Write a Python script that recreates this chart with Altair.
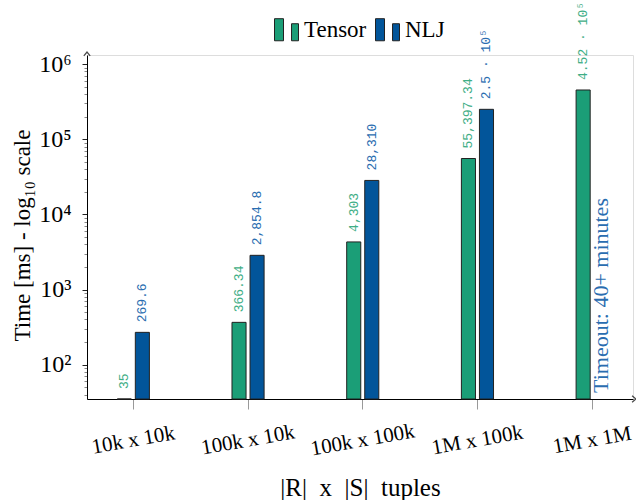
import altair as alt
import pandas as pd

# ---- data ----
categories = ["10k x 10k", "100k x 10k", "100k x 100k", "1M x 100k", "1M x 1M"]
series_names = ["Tensor", "NLJ"]
tensor_ms = [35, 366.34, 4303, 55397.34, 452000]
nlj_ms = [269.6, 2854.8, 28310, 250000, None]
tensor_labels = ["35", "366.34", "4,303", "55,397.34", "4.52 · 10⁵"]
nlj_labels = ["269.6", "2,854.8", "28,310", "2.5 · 10⁵", None]
timeout_category = "1M x 1M"
timeout_text = "Timeout: 40+ minutes"
y_min, y_max = 35, 1.32e6
y_major = [1e2, 1e3, 1e4, 1e5, 1e6]
y_minor = [m * 10 ** e for e in range(1, 6) for m in range(2, 10) if m * 10 ** e >= y_min]

rows = []
for c, v, l in zip(categories, tensor_ms, tensor_labels):
    rows.append({"cat": c, "series": "Tensor", "value": v, "label": l})
for c, v, l in zip(categories, nlj_ms, nlj_labels):
    if v is not None:
        rows.append({"cat": c, "series": "NLJ", "value": v, "label": l})
df = pd.DataFrame(rows)
df_timeout = pd.DataFrame([{"cat": timeout_category, "series": "NLJ", "value": y_min, "label": timeout_text}])

# ---- styles ----
W, H = 546, 344
GREEN, BLUE = "#1b9e77", "#02559a"
GREEN_LBL, BLUE_LBL = "#3fae86", "#2a6db0"
SERIF = "Liberation Serif"
MONO = "Liberation Mono"

x_scale = alt.Scale(domain=categories, paddingInner=0.72, paddingOuter=0.24, align=0.55)
xo_scale = alt.Scale(domain=series_names, paddingInner=0.22, paddingOuter=0)
y_scale = alt.Scale(type="log", domain=[y_min, y_max], nice=False)

major_test = "indexof([100,1000,10000,100000,1000000], datum.value) >= 0"

x_enc = alt.X(
    "cat:N", scale=x_scale, sort=categories,
    axis=alt.Axis(
        title="|R|\u2002x\u2002|S|\u2002tuples", titleFont=SERIF, titleFontSize=25,
        titleFontWeight="normal", titleColor="black", titleX=W / 2, titleY=88,
        titleBaseline="middle", titleAlign="center",
        labelFont=SERIF, labelFontSize=21, labelColor="black", labelAngle=350,
        labelAlign="center", labelBaseline="middle", labelPadding=31,
        labelOverlap=False, labelLimit=300,
        tickSize=10, tickColor="#999999", tickWidth=1,
        domainColor="black", domainWidth=1, grid=False,
    ),
)
xo_enc = alt.XOffset("series:N", scale=xo_scale)
y_enc = alt.Y(
    "value:Q", scale=y_scale,
    axis=alt.Axis(
        title="Time [ms] - log₁₀ scale", titleFont=SERIF, titleFontSize=23,
        titleFontWeight="normal", titleColor="black", titleX=-65, titleY=180,
        titleAngle=270, titleAlign="center", titleBaseline="middle",
        values=sorted(y_major + y_minor),
        labelExpr="indexof([100,1000,10000,100000,1000000], datum.value) >= 0 ? '10' + ['⁰','¹','²','³','⁴','⁵','⁶'][round(log(datum.value)/LN10)] : ''",
        labelFont=SERIF, labelFontSize=24, labelColor="black", labelPadding=11,
        labelOverlap=False,
        tickSize={"condition": {"test": major_test, "value": 5}, "value": 3},
        tickColor={"condition": {"test": major_test, "value": "#222222"}, "value": "#888888"},
        tickWidth=1,
        domainColor="black", domainWidth=1, grid=False,
    ),
)

legend_path = "M-1,-0.92 L-0.25,-0.92 L-0.25,0.92 L-1,0.92 Z M0.42,-0.5 L1,-0.5 L1,0.92 L0.42,0.92 Z"

bars = alt.Chart(df).mark_bar(stroke="#222222", strokeWidth=1).encode(
    x=x_enc, xOffset=xo_enc, y=y_enc, y2=alt.datum(y_min),
    fill=alt.Fill(
        "series:N", scale=alt.Scale(domain=series_names, range=[GREEN, BLUE]),
        legend=alt.Legend(
            title=None, orient="none", direction="horizontal", legendX=187, legendY=-38,
            symbolType=legend_path, symbolSize=576, symbolStrokeColor="#222222",
            symbolStrokeWidth=1, labelFont=SERIF, labelFontSize=23, labelColor="black",
            labelOffset=5, columnPadding=6, padding=0,
        ),
    ),
)

labels = alt.Chart(df).mark_text(
    angle=270, align="left", baseline="middle", dx=10, font=MONO, fontSize=13
).encode(
    x=alt.X("cat:N", scale=x_scale, sort=categories),
    xOffset=xo_enc,
    y=alt.Y("value:Q", scale=y_scale),
    text="label:N",
    color=alt.condition("datum.series == 'Tensor'", alt.value(GREEN_LBL), alt.value(BLUE_LBL)),
)

timeout = alt.Chart(df_timeout).mark_text(
    angle=270, align="left", baseline="middle", dx=6, font=SERIF, fontSize=22, color=BLUE_LBL
).encode(
    x=alt.X("cat:N", scale=x_scale, sort=categories),
    xOffset=xo_enc,
    y=alt.Y("value:Q", scale=y_scale),
    text="label:N",
)

# axis arrow heads (decoration)
arrow_up = alt.Chart(pd.DataFrame({"a": [0]})).mark_point(
    shape="M-1,0.6 L0,-0.6 L1,0.6", filled=False, stroke="black", strokeWidth=1.3, size=40
).encode(x=alt.value(0), y=alt.value(-1))
arrow_right = alt.Chart(pd.DataFrame({"a": [0]})).mark_point(
    shape="M-0.6,-1 L0.6,0 L-0.6,1", filled=False, stroke="black", strokeWidth=1.3, size=40
).encode(x=alt.value(W + 1), y=alt.value(H))

chart = alt.layer(bars, labels, timeout, arrow_up, arrow_right).properties(
    width=W, height=H,
    autosize=alt.AutoSizeParams(type="none"),
    padding={"left": 87, "top": 55, "right": 3, "bottom": 101},
).configure_view(stroke=None).configure(background="white")

chart.save("out.html", embed_options={"renderer": "svg", "actions": False})
